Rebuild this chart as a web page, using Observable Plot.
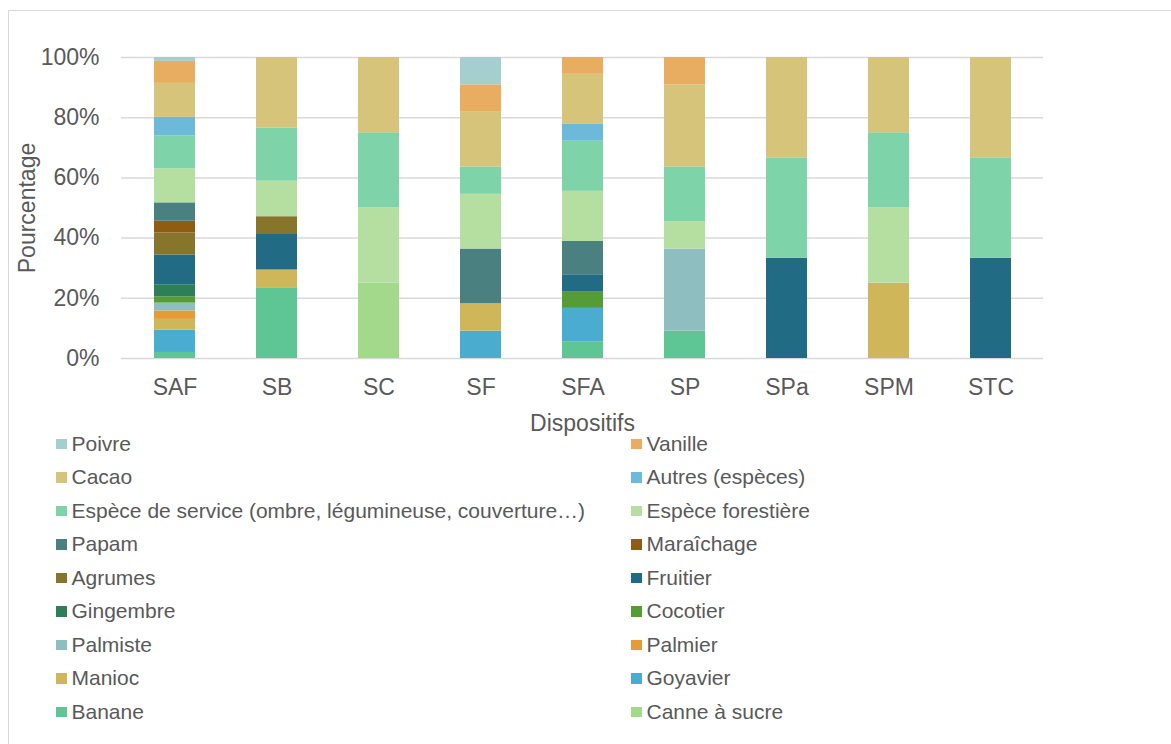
<!DOCTYPE html>
<html>
<head>
<meta charset="utf-8">
<script src="https://cdn.jsdelivr.net/npm/d3@7"></script>
<script src="https://cdn.jsdelivr.net/npm/@observablehq/plot@0.6"></script>
<style>
  html, body { margin: 0; padding: 0; background: #fff; overflow: hidden; }
  body { width: 1171px; height: 744px; position: relative; font-family: "Liberation Sans", Arial, sans-serif; }
  #frame { position: absolute; left: 8px; top: 10px; width: 1300px; height: 900px; border: 1.5px solid #d9d9d9; box-sizing: border-box; pointer-events: none; z-index: 5; }
  #chart { position: absolute; left: 0; top: 0; }
  #legend { position: absolute; left: 0; top: 427px; width: 1171px; display: grid; grid-template-columns: 575px 540px; padding-left: 56px; box-sizing: border-box; }
  .item { height: 33.5px; display: flex; align-items: center; font-size: 21px; color: #595959; white-space: nowrap; }
  .sw { width: 10.5px; height: 10.5px; margin-right: 5px; flex: none; }
</style>
</head>
<body>
<div id="frame"></div>
<div id="chart"></div>
<div id="legend"></div>
<script>
// Categories (x axis)
const categories = ["SAF", "SB", "SC", "SF", "SFA", "SP", "SPa", "SPM", "STC"];

// Series, stacked from bottom to top
const series = ["Canne à sucre", "Banane", "Goyavier", "Manioc", "Palmier", "Palmiste", "Cocotier", "Gingembre", "Fruitier", "Agrumes", "Maraîchage", "Papam", "Espèce forestière", "Espèce de service (ombre, légumineuse, couverture…)", "Autres (espèces)", "Cacao", "Vanille", "Poivre"];

const colors = ["#a3d98b", "#5ec695", "#4aadd0", "#cfb759", "#e39c37", "#8fbec0", "#569c36", "#2d7f5a", "#226b85", "#86752b", "#8f5c14", "#4a8080", "#b5dfa1", "#7fd3a8", "#6db9da", "#d6c47a", "#e8ad60", "#a5cfcf"];

// Values (%) per series, one per category
const canne      = [0,    0,    25, 0,    0,    0,    0,    0,  0];
const banane     = [2.0,  23.5, 0,  0,    5.6,  9.1,  0,    0,  0];
const goyavier   = [7.4,  0,    0,  9.1,  11.1, 0,    0,    0,  0];
const manioc     = [3.6,  5.9,  0,  9.1,  0,    0,    0,    25, 0];
const palmier    = [2.8,  0,    0,  0,    0,    0,    0,    0,  0];
const palmiste   = [2.6,  0,    0,  0,    0,    27.3, 0,    0,  0];
const cocotier   = [2.1,  0,    0,  0,    5.6,  0,    0,    0,  0];
const gingembre  = [4.0,  0,    0,  0,    0,    0,    0,    0,  0];
const fruitier   = [9.9,  11.8, 0,  0,    5.6,  0,    33.3, 0,  33.3];
const agrumes    = [7.3,  5.9,  0,  0,    0,    0,    0,    0,  0];
const maraichage = [3.9,  0,    0,  0,    0,    0,    0,    0,  0];
const papam      = [6.1,  0,    0,  18.2, 11.1, 0,    0,    0,  0];
const forestiere = [11.3, 11.8, 25, 18.2, 16.7, 9.1,  0,    25, 0];
const service    = [11.0, 17.6, 25, 9.1,  16.7, 18.2, 33.3, 25, 33.3];
const autres     = [6.1,  0,    0,  0,    5.6,  0,    0,    0,  0];
const cacao      = [11.3, 23.5, 25, 18.2, 16.7, 27.3, 33.3, 25, 33.3];
const vanille    = [7.3,  0,    0,  9.1,  5.6,  9.1,  0,    0,  0];
const poivre     = [1.3,  0,    0,  9.1,  0,    0,    0,    0,  0];

const valuesBySeries = [canne, banane, goyavier, manioc, palmier, palmiste, cocotier, gingembre, fruitier, agrumes, maraichage, papam, forestiere, service, autres, cacao, vanille, poivre];

// Y tick values and labels
const yTicks = [0, 0.2, 0.4, 0.6, 0.8, 1];
const yTickLabels = ["0%", "20%", "40%", "60%", "80%", "100%"];

// Legend order (as displayed, two columns, row-wise)
const legendOrder = ["Poivre", "Vanille", "Cacao", "Autres (espèces)", "Espèce de service (ombre, légumineuse, couverture…)", "Espèce forestière", "Papam", "Maraîchage", "Agrumes", "Fruitier", "Gingembre", "Cocotier", "Palmiste", "Palmier", "Manioc", "Goyavier", "Banane", "Canne à sucre"];

const data = [];
series.forEach((s, i) => {
  categories.forEach((c, j) => {
    const v = valuesBySeries[i][j];
    if (v > 0) data.push({cat: c, series: s, value: v});
  });
});

const plot = Plot.plot({
  width: 1171,
  height: 440,
  marginTop: 57,
  marginBottom: 82,
  marginLeft: 121,
  marginRight: 128,
  style: {fontFamily: '"Liberation Sans", Arial, sans-serif', fontSize: "23px", color: "#595959", background: "transparent", overflow: "visible"},
  x: {domain: categories, paddingInner: 0.6, paddingOuter: 0.3, tickSize: 0, tickPadding: 20, label: null},
  y: {domain: [0, 1], ticks: yTicks, tickFormat: (d) => yTickLabels[yTicks.indexOf(d)] ?? "", tickSize: 0, tickPadding: 22, label: null},
  color: {domain: series, range: colors},
  marks: [
    Plot.ruleY(yTicks, {stroke: "#d9d9d9", strokeWidth: 1.5}),
    Plot.barY(data, Plot.stackY({x: "cat", y: "value", fill: "series", z: "series", order: series, offset: "normalize"})),
    Plot.text(["Pourcentage"], {frameAnchor: "left", dx: -94, rotate: -90, fill: "#595959", fontSize: 23, textAnchor: "middle", lineAnchor: "middle"}),
    Plot.text(["Dispositifs"], {frameAnchor: "bottom", dy: 65, fill: "#595959", fontSize: 23, textAnchor: "middle", lineAnchor: "middle"})
  ]
});
document.getElementById("chart").appendChild(plot);

const legend = document.getElementById("legend");
legendOrder.forEach((name) => {
  const idx = series.indexOf(name);
  const item = document.createElement("div");
  item.className = "item";
  const sw = document.createElement("span");
  sw.className = "sw";
  sw.style.background = colors[idx];
  const label = document.createElement("span");
  label.textContent = name;
  item.appendChild(sw);
  item.appendChild(label);
  legend.appendChild(item);
});
</script>
</body>
</html>
